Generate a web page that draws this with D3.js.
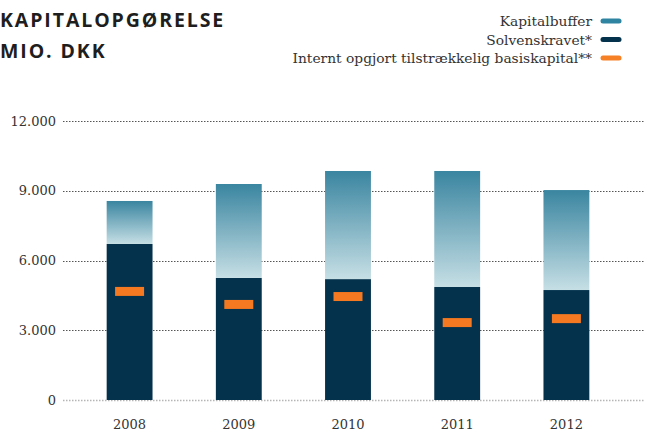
<!DOCTYPE html>
<html>
<head>
<meta charset="utf-8">
<script src="https://cdn.jsdelivr.net/npm/d3@7"></script>
<style>
  html, body { margin: 0; padding: 0; background: #fff; }
  svg { display: block; }
</style>
</head>
<body>
<div id="chart"></div>
<script>
// Kapitalopgørelse, mio. DKK
const years = ['2008', '2009', '2010', '2011', '2012'];
const solvenskrav = [6710, 5250, 5200, 4860, 4730];
const kapitalbuffer = [1850, 4040, 4650, 4990, 4300];
const basiskapital = [4670, 4110, 4450, 3330, 3500];
const yTicks = [0, 3000, 6000, 9000, 12000];
const legendItems = [
  { label: 'Kapitalbuffer', color: '#2f84a1' },
  { label: 'Solvenskravet*', color: '#04324d' },
  { label: 'Internt opgjort tilstrækkelig basiskapital**', color: '#f68026' }
];

const width = 645, height = 433;
const serif = '"DejaVu Serif", "Liberation Serif", serif';

const svg = d3.select('#chart').append('svg')
  .attr('width', width)
  .attr('height', height);

const defs = svg.append('defs');
const grad = defs.append('linearGradient')
  .attr('id', 'bufferGrad')
  .attr('x1', 0).attr('y1', 0).attr('x2', 0).attr('y2', 1);
grad.append('stop').attr('offset', '0%').attr('stop-color', '#3a85a0');
grad.append('stop').attr('offset', '100%').attr('stop-color', '#c6dfe5');

const x = d3.scaleBand()
  .domain(years)
  .range([75, 621])
  .paddingInner(0.58)
  .paddingOuter(0.29);

const y = d3.scaleLinear()
  .domain([0, 12000])
  .range([400, 121]);

// grid lines
const grid = svg.append('g');
grid.selectAll('line')
  .data(yTicks)
  .enter().append('line')
  .attr('x1', 63).attr('x2', width)
  .attr('y1', d => Math.round(y(d)) + 0.5)
  .attr('y2', d => Math.round(y(d)) + 0.5)
  .attr('stroke', d => d === 0 ? '#b5b5b5' : '#555')
  .attr('stroke-width', d => d === 0 ? 1.5 : 1)
  .attr('stroke-dasharray', '1.5,1.5');

// y axis labels
const yAxis = d3.axisLeft(y)
  .tickValues(yTicks)
  .tickSize(0)
  .tickPadding(0)
  .tickFormat(d => d3.format(',')(d).replace(/,/g, '.'));
svg.append('g')
  .attr('transform', 'translate(56,0)')
  .call(yAxis)
  .call(g => g.select('.domain').remove())
  .selectAll('text')
  .attr('font-family', serif)
  .attr('font-size', 13)
  .attr('fill', '#333');

// x axis labels
const xAxis = d3.axisBottom(x).tickSize(0).tickPadding(0);
svg.append('g')
  .attr('transform', 'translate(0,420)')
  .call(xAxis)
  .call(g => g.select('.domain').remove())
  .selectAll('text')
  .attr('font-family', serif)
  .attr('font-size', 13)
  .attr('fill', '#333');

// bars
const bars = svg.append('g');
bars.selectAll('rect.solv')
  .data(years)
  .enter().append('rect')
  .attr('class', 'solv')
  .attr('x', d => x(d))
  .attr('width', x.bandwidth())
  .attr('y', (d, i) => y(solvenskrav[i]))
  .attr('height', (d, i) => y(0) - y(solvenskrav[i]))
  .attr('fill', '#04324d');

bars.selectAll('rect.buf')
  .data(years)
  .enter().append('rect')
  .attr('class', 'buf')
  .attr('x', d => x(d))
  .attr('width', x.bandwidth())
  .attr('y', (d, i) => y(solvenskrav[i] + kapitalbuffer[i]))
  .attr('height', (d, i) => y(solvenskrav[i]) - y(solvenskrav[i] + kapitalbuffer[i]))
  .attr('fill', 'url(#bufferGrad)');

const markW = 29, markH = 9;
bars.selectAll('rect.mark')
  .data(years)
  .enter().append('rect')
  .attr('class', 'mark')
  .attr('x', d => x(d) + x.bandwidth() / 2 - markW / 2)
  .attr('width', markW)
  .attr('y', (d, i) => y(basiskapital[i]) - markH / 2)
  .attr('height', markH)
  .attr('fill', '#f47920');

// title
const title = svg.append('g')
  .attr('font-family', '"Open Sans", "DejaVu Sans", sans-serif')
  .attr('font-weight', 700)
  .attr('font-size', 19.5)
  .attr('letter-spacing', 1.9)
  .attr('fill', '#1e1e1e');
title.append('text').attr('x', 0).attr('y', 27).text('KAPITALOPGØRELSE');
title.append('text').attr('x', 0).attr('y', 58).text('MIO. DKK');

// legend
const legend = svg.append('g');
const rows = legend.selectAll('g')
  .data(legendItems)
  .enter().append('g')
  .attr('transform', (d, i) => `translate(0,${21 + i * 18.5})`);
rows.append('text')
  .attr('x', 592)
  .attr('y', 5)
  .attr('text-anchor', 'end')
  .attr('font-family', serif)
  .attr('font-size', 13.8)
  .attr('fill', '#333')
  .text(d => d.label);
rows.append('line')
  .attr('x1', 603).attr('x2', 619)
  .attr('y1', 0).attr('y2', 0)
  .attr('stroke', d => d.color)
  .attr('stroke-width', 5)
  .attr('stroke-linecap', 'round');
</script>
</body>
</html>
